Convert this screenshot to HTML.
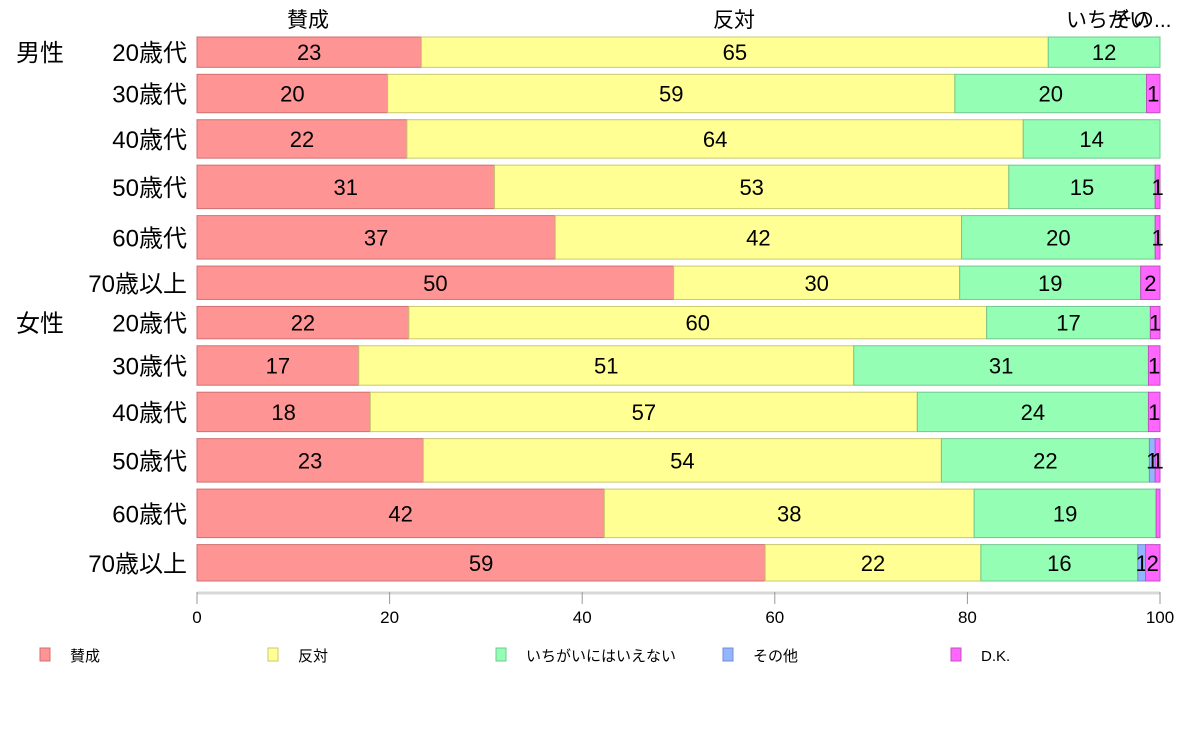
<!DOCTYPE html>
<html><head><meta charset="utf-8"><style>
body{margin:0;background:#fff}
svg{display:block;font-family:"Liberation Sans","Noto Sans CJK JP",sans-serif}
</style></head><body>
<svg id="c" width="1188" height="736"></svg>
<script>
const categories=["男性 20歳代","30歳代","40歳代","50歳代","60歳代","70歳以上","女性 20歳代","30歳代","40歳代","50歳代","60歳代","70歳以上"];
const seriesNames=["賛成","反対","いちがいにはいえない","その他","D.K."];
const agree=[23.3,19.8,21.8,30.9,37.2,49.5,22.0,16.8,18.0,23.5,42.3,59.0];
const oppose=[65.1,58.9,64.0,53.4,42.2,29.7,60.0,51.4,56.8,53.8,38.4,22.4];
const neither=[11.6,19.9,14.2,15.2,20.1,18.8,17.0,30.6,24.0,21.6,18.9,16.3];
const other=[0,0,0,0,0,0,0,0,0,0.6,0,0.8];
const dk=[0,1.4,0,0.5,0.5,2.0,1.0,1.2,1.2,0.5,0.4,1.5];
const sampleWeights=[30,38,38,43,43,33,32,39,39,43,48,36];
const labels=[["23","65","12","",""],["20","59","20","","1"],["22","64","14","",""],["31","53","15","","1"],["37","42","20","","1"],["50","30","19","","2"],["22","60","17","","1"],["17","51","31","","1"],["18","57","24","","1"],["23","54","22","1","1"],["42","38","19","",""],["59","22","16","1","2"]];
const ticks=[0,20,40,60,80,100];
const colors=["#ff9494","#ffff94","#94ffb4","#94b4ff","#ff66ff"];
const strokes=["#d07070","#c8c870","#70c890","#7090d0","#c050c0"];
const NS="http://www.w3.org/2000/svg";
const svgEl=document.getElementById('c');
const x0=197,x1=1160,yTop=37,yBottom=581;
const X=v=>x0+(x1-x0)*v/100;
function mk(t,a){const e=document.createElementNS(NS,t);for(const k in a)e.setAttribute(k,a[k]);svgEl.appendChild(e);return e;}
const totalW=sampleWeights.reduce((a,b)=>a+b,0);
const gap=7;
const avail=yBottom-yTop-gap*(categories.length-1);
let yy=yTop;
const series=[agree,oppose,neither,other,dk];
categories.forEach((c,i)=>{
  const h=avail*sampleWeights[i]/totalW;
  let cum=0;
  series.forEach((s,j)=>{
    const v=s[i];
    if(v>0){
      const r=mk('rect',{x:X(cum),y:yy,width:X(cum+v)-X(cum),height:h,fill:colors[j],stroke:strokes[j],'stroke-width':1});
      
      
      if(labels[i][j]){
        const t=mk('text',{x:X(cum+v/2),y:yy+h/2+8,'font-size':22,'text-anchor':'middle',fill:'#000'});
        t.textContent=labels[i][j];
        
        
      }
    }
    cum+=v;
  });
  const parts=c.split(' ');
  if(parts.length>1){
    const g=mk('text',{x:16,y:yy+h/2+9,'font-size':24});g.textContent=parts[0];
    
    
  }
  const t=mk('text',{x:187,y:yy+h/2+9,'font-size':24,'text-anchor':'end'});
  t.textContent=parts[parts.length-1];
  
  
  yy+=h+gap;
});
const hdr=[[308,"賛成",'middle'],[734,"反対",'middle'],[1066,"いちがい",'start'],[1112,"その...",'start']];
hdr.forEach(h=>{const t=mk('text',{x:h[0],y:27,'font-size':21,'text-anchor':h[2]});t.textContent=h[1];

});
const ax=mk('line',{x1:x0,x2:x1,y1:593,y2:593,stroke:'#d8d8d8','stroke-width':3});


ticks.forEach(v=>{
  const l=mk('line',{x1:X(v),x2:X(v),y1:592,y2:604,stroke:'#999','stroke-width':1});
  
  
  const t=mk('text',{x:X(v),y:623,'font-size':17,'text-anchor':'middle'});t.textContent=v;
  
  
});
const lx=[40,268,496,723,951];
seriesNames.forEach((n,j)=>{
  const r=mk('rect',{x:lx[j],y:648,width:10,height:13,fill:colors[j],stroke:strokes[j]});
  
  
  const t=mk('text',{x:lx[j]+30,y:661,'font-size':15});t.textContent=n;
  
  
});
</script>
</body></html>
